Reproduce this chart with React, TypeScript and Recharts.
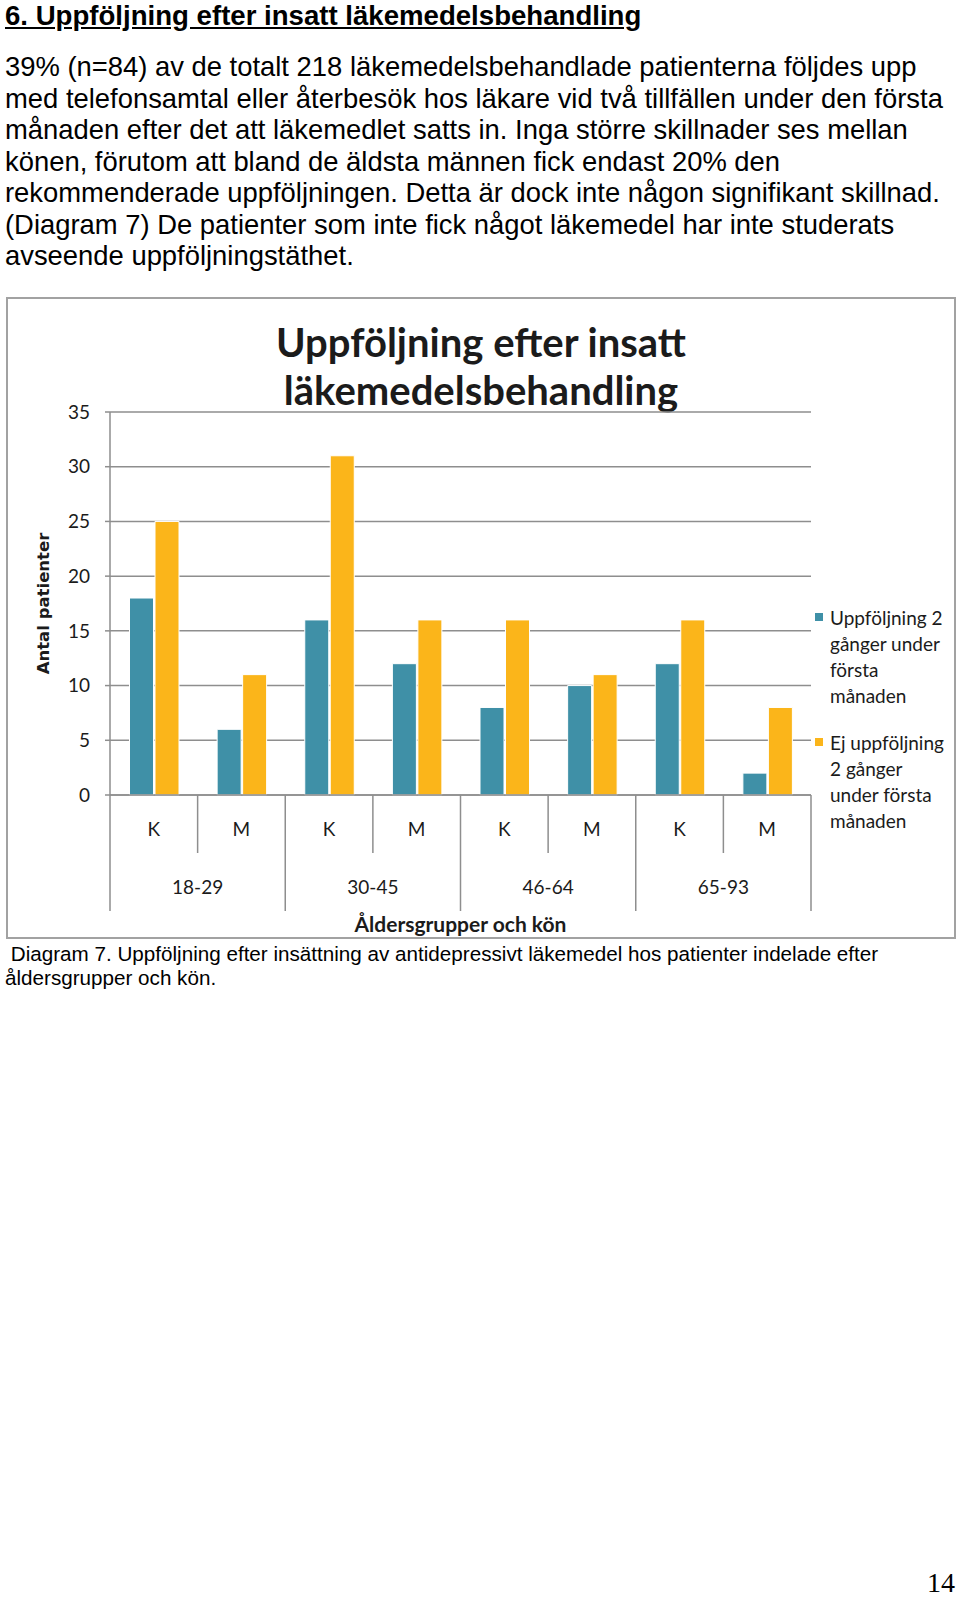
import React from 'react';
import { BarChart, Bar, XAxis, YAxis, CartesianGrid, Legend, Label } from 'recharts';

const SEX = ['K', 'M', 'K', 'M', 'K', 'M', 'K', 'M'];
const AGE_GROUPS = ['18-29', '18-29', '30-45', '30-45', '46-64', '46-64', '65-93', '65-93'];
const FOLLOWED = [18, 6, 16, 12, 8, 10, 12, 2];
const NOT_FOLLOWED = [25, 11, 31, 16, 16, 11, 16, 8];
const Y_TICKS = [0, 5, 10, 15, 20, 25, 30, 35];

const SERIES = [
    { key: 'followed', name: 'Uppföljning 2 gånger under första månaden', color: '#3f90a7', lines: ['Uppföljning 2', 'gånger under', 'första', 'månaden'] },
    { key: 'notFollowed', name: 'Ej uppföljning 2 gånger under första månaden', color: '#fbb51a', lines: ['Ej uppföljning', '2 gånger', 'under första', 'månaden'] },
];

const PARAGRAPH = [
    '39% (n=84) av de totalt 218 läkemedelsbehandlade patienterna följdes upp',
    'med telefonsamtal eller återbesök hos läkare vid två tillfällen under den första',
    'månaden efter det att läkemedlet satts in. Inga större skillnader ses mellan',
    'könen, förutom att bland de äldsta männen fick endast 20% den',
    'rekommenderade uppföljningen. Detta är dock inte någon signifikant skillnad.',
    '(Diagram 7) De patienter som inte fick något läkemedel har inte studerats',
    'avseende uppföljningstäthet.',
];

const data = SEX.map((sex, i) => ({
    id: `${AGE_GROUPS[i]} ${sex}`,
    sex,
    group: AGE_GROUPS[i],
    followed: FOLLOWED[i],
    notFollowed: NOT_FOLLOWED[i],
}));

const GRID = '#8e8e8e';
const INK = '#1b1b1b';
const CHART_FONT = 'Lato, "Open Sans", sans-serif';

const SexTick = (props: any) => {
    const { x, y, payload, index } = props;
    const half = payload && typeof payload.offset === 'number' && payload.offset > 0 ? payload.offset : 43.8;
    const row = data[index];
    const groupEnd = index % 2 === 1;
    return (
        <g>
            {index === 0 && <line x1={x - half} x2={x - half} y1={y} y2={y + 116} stroke={GRID} strokeWidth={1.5} />}
            <line x1={x + half} x2={x + half} y1={y} y2={y + (groupEnd ? 116 : 58)} stroke={GRID} strokeWidth={1.5} />
            <text x={x} y={y + 33} textAnchor="middle" dominantBaseline="central" fill={INK} fontSize={19} fontFamily={CHART_FONT}>
                {row.sex}
            </text>
            {groupEnd && (
                <text x={x - half} y={y + 91} textAnchor="middle" dominantBaseline="central" fill={INK} fontSize={19} fontFamily={CHART_FONT}>
                    {row.group}
                </text>
            )}
        </g>
    );
};

const renderLegend = () => (
    <div style={{ fontFamily: CHART_FONT, fontSize: 19, lineHeight: '26px', color: INK }}>
        {SERIES.map((s, i) => (
            <div key={s.key} style={{ position: 'relative', paddingLeft: 15, marginTop: i === 0 ? 0 : 21 }}>
                <span style={{ position: 'absolute', left: 0, top: 8, width: 8, height: 8, background: s.color }} />
                {s.lines.map((l) => (
                    <div key={l} style={{ whiteSpace: 'nowrap' }}>{l}</div>
                ))}
            </div>
        ))}
    </div>
);

const App: React.FC = () => {
    return (
        <div style={{ position: 'absolute', left: 0, top: 0, width: 960, height: 1599, background: '#fff', overflow: 'hidden' }}>
            <div style={{ position: 'absolute', left: 5, top: 0, fontFamily: '"Liberation Sans", Arial, sans-serif', fontWeight: 700, fontSize: 27.6, lineHeight: '32px', textDecoration: 'underline', whiteSpace: 'nowrap', color: '#000' }}>
                6. Uppföljning efter insatt läkemedelsbehandling
            </div>
            <div style={{ position: 'absolute', left: 5, top: 51, fontFamily: '"Liberation Sans", Arial, sans-serif', fontSize: 27.4, lineHeight: '31.5px', color: '#000' }}>
                {PARAGRAPH.map((l) => (
                    <div key={l} style={{ whiteSpace: 'nowrap' }}>{l}</div>
                ))}
            </div>

            <div style={{ position: 'absolute', left: 6, top: 297, width: 946, height: 638, border: '2px solid #a2a2a2' }} />
            <div style={{ position: 'absolute', left: 0, top: 318, width: 962, textAlign: 'center', fontFamily: CHART_FONT, fontWeight: 700, fontSize: 40, lineHeight: '48px', color: INK }}>
                Uppföljning efter insatt
                <br />
                läkemedelsbehandling
            </div>

            <div style={{ position: 'absolute', left: 0, top: 298 }}>
                <BarChart
                    width={960}
                    height={640}
                    data={data}
                    margin={{ top: 114, right: 149, bottom: 0, left: 0 }}
                    barCategoryGap={19.5}
                    barGap={1.5}
                >
                    <CartesianGrid vertical={false} stroke={GRID} strokeWidth={1.5} />
                    <XAxis
                        dataKey="id"
                        interval={0}
                        height={143}
                        tickSize={0}
                        tickMargin={0}
                        tickLine={false}
                        axisLine={{ stroke: GRID, strokeWidth: 1.5 }}
                        tick={<SexTick />}
                    >
                        <Label
                            content={(p: any) => {
                                const vb = p.viewBox || { x: 110, y: 497, width: 701 };
                                return (
                                    <text x={vb.x + vb.width / 2} y={vb.y + 128} textAnchor="middle" dominantBaseline="central" fill={INK} fontSize={21} fontWeight={700} fontFamily={CHART_FONT}>
                                        Åldersgrupper och kön
                                    </text>
                                );
                            }}
                        />
                    </XAxis>
                    <YAxis
                        width={110}
                        domain={[0, 35]}
                        ticks={Y_TICKS}
                        interval={0}
                        tickSize={5}
                        tickMargin={15}
                        tickLine={{ stroke: GRID, strokeWidth: 1.5 }}
                        axisLine={{ stroke: GRID, strokeWidth: 1.5 }}
                        tick={{ fill: INK, fontSize: 19, fontFamily: CHART_FONT }}
                    >
                        <Label
                            content={(p: any) => {
                                const vb = p.viewBox || { x: 0, y: 114, height: 383 };
                                const cx = vb.x + 43;
                                const cy = vb.y + vb.height / 2;
                                return (
                                    <text x={cx} y={cy} transform={`rotate(-90, ${cx}, ${cy})`} textAnchor="middle" dominantBaseline="central" fill={INK} fontSize={16.5} fontWeight={700} fontFamily='"DejaVu Sans", Verdana, sans-serif'>
                                        Antal patienter
                                    </text>
                                );
                            }}
                        />
                    </YAxis>
                    <Legend
                        layout="vertical"
                        align="center"
                        verticalAlign="middle"
                        content={renderLegend}
                        wrapperStyle={{ left: 815, top: 307, width: 145 }}
                    />
                    {SERIES.map((s) => (
                        <Bar key={s.key} dataKey={s.key} name={s.name} fill={s.color} stroke="#ffffff" strokeWidth={1} isAnimationActive={false} />
                    ))}
                </BarChart>
            </div>

            <div style={{ position: 'absolute', left: 5, top: 942, fontFamily: '"Liberation Sans", Arial, sans-serif', fontSize: 20.65, lineHeight: '23.5px', color: '#000' }}>
                <div style={{ whiteSpace: 'nowrap' }}>{'\u00a0Diagram 7. Uppföljning efter insättning av antidepressivt läkemedel hos patienter indelade efter'}</div>
                <div style={{ whiteSpace: 'nowrap' }}>åldersgrupper och kön.</div>
            </div>

            <div style={{ position: 'absolute', right: 5, top: 1567, fontFamily: '"Liberation Serif", "Times New Roman", serif', fontSize: 28, lineHeight: '32px', color: '#000' }}>
                14
            </div>
        </div>
    );
};

export default App;
